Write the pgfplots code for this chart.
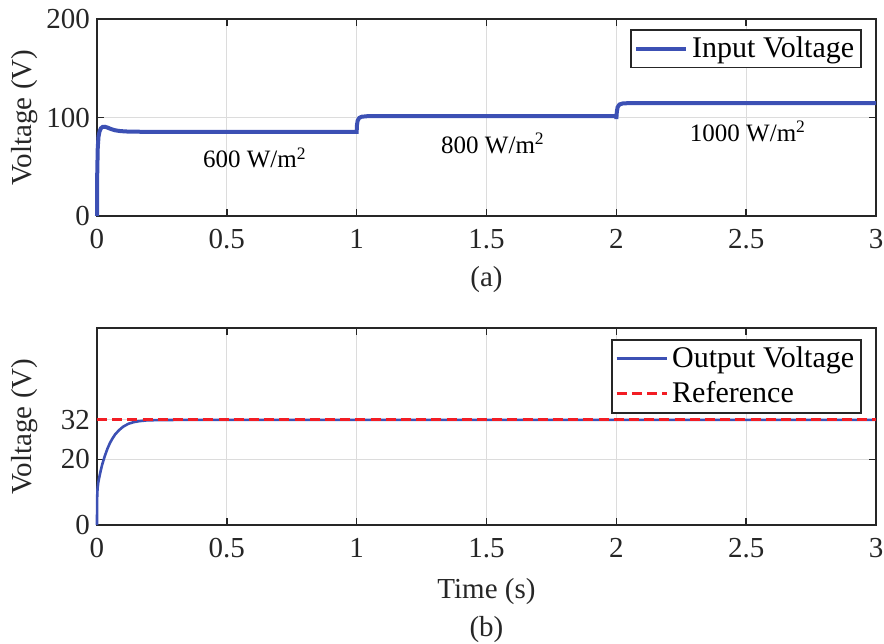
\documentclass[border=0pt]{standalone}
\usepackage{fontspec}
\setmainfont{Liberation Serif}
\usepackage{pgfplots}
\pgfplotsset{compat=1.18}
\definecolor{LineBlue}{HTML}{3C50B4}
\definecolor{RefRed}{HTML}{F21D24}
\definecolor{AxGray}{HTML}{262626}
\definecolor{GridGray}{HTML}{DCDCDC}
\newcommand{\lblfont}{\fontsize{14.5}{16}\selectfont}
\newcommand{\legfont}{\fontsize{15}{16}\selectfont}
\newcommand{\annfont}{\fontsize{12.5}{14}\selectfont}
\pgfplotsset{
  panel/.style={
    scale only axis,
    width=389.5pt, height=98.5pt,
    xmin=0, xmax=3,
    xtick={0,0.5,1,1.5,2,2.5,3},
    clip=false,
    grid=major,
    major grid style={draw=GridGray, line width=0.5pt},
    axis line style={draw=AxGray, line width=0.8pt},
    tick style={draw=AxGray, line width=0.7pt},
    tick align=inside,
    major tick length=3.5pt,
    /pgf/number format/assume math mode=true,
    every tick label/.append style={font=\lblfont, text=AxGray},
    xticklabel style={yshift=-3pt},
    label style={font=\lblfont, text=AxGray},
    ylabel={Voltage (V)},
    ylabel style={at={(rel axis cs:0,0.5)}, yshift=36pt, anchor=center},
    legend style={font=\legfont, draw=AxGray, line width=0.8pt,
      inner sep=1.5pt, row sep=1.5pt, text=black},
    legend cell align=left,
    legend image code/.code={\draw[##1] (0pt,0pt) -- (25pt,0pt);},
  }
}
\begin{document}
\begin{tikzpicture}
\path[use as bounding box] (-48.5pt,-213.5pt) rectangle (393.5pt,108pt);
\begin{axis}[panel,
  at={(0,0)}, anchor=south west,
  ymin=0, ymax=200, ytick={0,100,200},
  legend style={at={(rel axis cs:0.982,0.949)}, anchor=north east},
]
\addplot[LineBlue, line width=2pt] coordinates {
(0,0) (0.001,45) (0.003,70) (0.006,81) (0.01,86) (0.015,89) (0.022,90.5)
(0.03,90.6) (0.04,89.8) (0.055,88.2) (0.07,87) (0.09,86.2) (0.12,85.7)
(0.2,85.4) (0.5,85.3) (0.999,85.3)
(1.0,85.3) (1.001,92) (1.004,97) (1.01,99.6) (1.02,100.8) (1.04,101.3)
(1.2,101.5) (1.999,101.5)
(2.0,98.5) (2.002,106) (2.005,110.5) (2.012,113.2) (2.025,114.3) (2.05,114.6)
(2.3,114.7) (3,114.7)
};
\addlegendentry{Input Voltage}
\node[font=\annfont] at (axis cs:0.608,58.9) {600 W/m\textsuperscript{2}};
\node[font=\annfont] at (axis cs:1.525,74) {800 W/m\textsuperscript{2}};
\node[font=\annfont] at (axis cs:2.507,86) {1000 W/m\textsuperscript{2}};
\node[font=\lblfont, text=AxGray] at (rel axis cs:0.5,0) [yshift=-32pt] {(a)};
\end{axis}
\begin{axis}[panel,
  at={(0,-154.5pt)}, anchor=south west,
  ymin=0, ymax=60, ytick={0,20,32},
  legend style={at={(rel axis cs:0.982,0.944)}, anchor=north east},
  xlabel={Time (s)},
  xlabel style={at={(rel axis cs:0.5,0)}, yshift=-33.5pt, anchor=center},
]
\addplot[LineBlue, line width=1.3pt] coordinates {
(0,0) (0.0005,8) (0.002,11) (0.005,13) (0.01,15) (0.015,16.8) (0.02,18.4)
(0.03,21) (0.04,23.2) (0.05,25) (0.06,26.4) (0.07,27.6) (0.085,28.9)
(0.1,29.9) (0.12,30.8) (0.14,31.3) (0.16,31.6) (0.19,31.85) (0.23,31.95)
(0.3,32) (3,32)
};
\addlegendentry{Output Voltage}
\addplot[RefRed, line width=1.5pt, dash pattern=on 5pt off 2.6pt] coordinates {
(0,32) (3,32)
};
\addlegendentry{Reference}
\node[font=\lblfont, text=AxGray] at (rel axis cs:0.5,0) [yshift=-52.5pt] {(b)};
\end{axis}
\end{tikzpicture}
\end{document}
